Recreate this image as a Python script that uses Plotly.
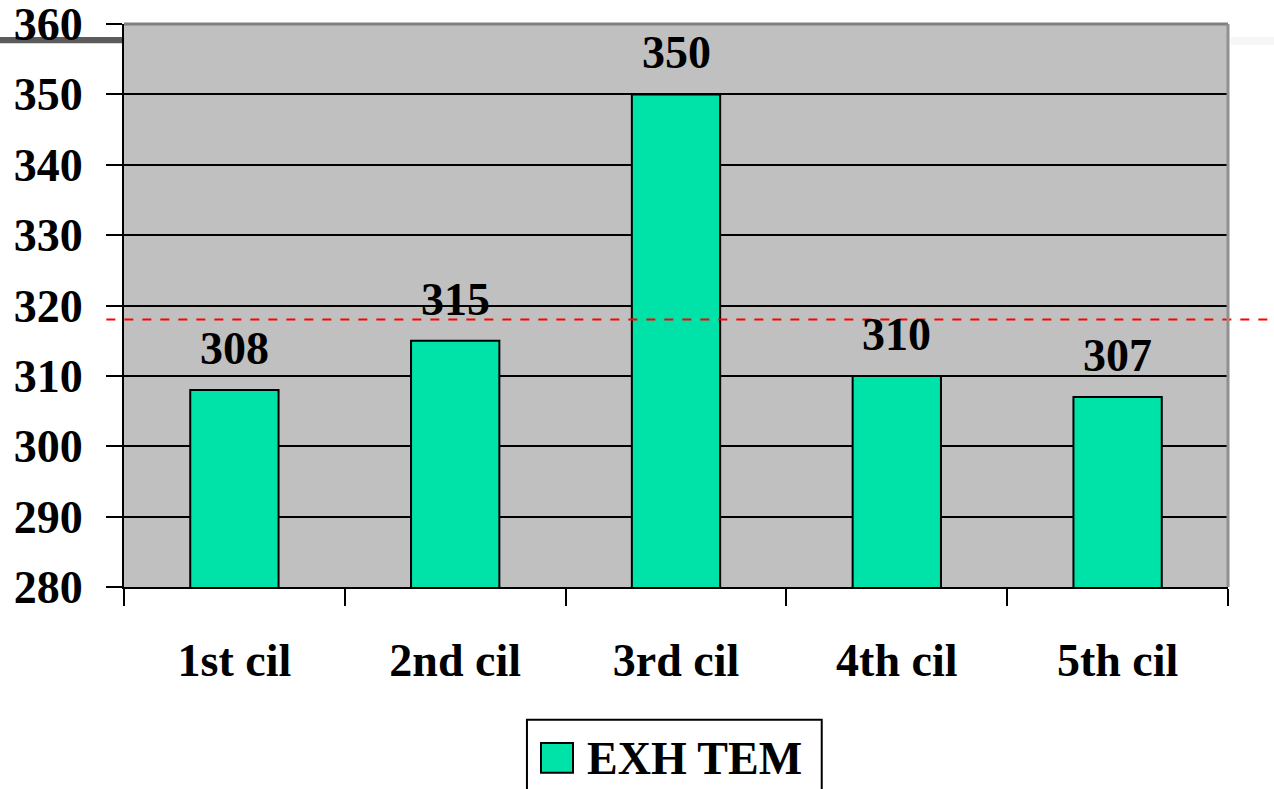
import plotly.graph_objects as go

categories = ["1st cil", "2nd cil", "3rd cil", "4th cil", "5th cil"]
exh_tem = [308, 315, 350, 310, 307]
series_name = "EXH TEM"
reference_level = 318
y_ticks = [280, 290, 300, 310, 320, 330, 340, 350, 360]

FONT = "Liberation Serif, Times New Roman, serif"
BAR_COLOR = "#00E3A8"

fig = go.Figure()
fig.add_trace(go.Bar(
    x=categories, y=exh_tem, name=series_name,
    width=0.4,
    marker=dict(color=BAR_COLOR, line=dict(color="black", width=2)),
    showlegend=False,
))

for c, v in zip(categories, exh_tem):
    fig.add_annotation(x=c, y=v, text=f"<b>{v}</b>", showarrow=False,
                       yanchor="bottom", yshift=14,
                       font=dict(family=FONT, size=46, color="black"))

# legend (drawn manually to match the large swatch)
fig.add_annotation(xref="paper", yref="paper", x=0.4176, y=-0.305,
                   xanchor="left", yanchor="middle", showarrow=False,
                   text=f"<b>{series_name}</b>",
                   font=dict(family=FONT, size=46, color="black"))

shapes = [
    # average reference line
    dict(type="line", xref="paper", yref="y", x0=-0.016, x1=1.045,
         y0=reference_level, y1=reference_level,
         line=dict(color="red", width=2, dash="dash"), layer="above"),
    # slide decoration bars
    dict(type="rect", xref="paper", yref="paper", x0=-0.115, x1=0,
         y0=0.966, y1=0.977, fillcolor="#5c5c5c", line=dict(width=0), layer="below"),
    dict(type="rect", xref="paper", yref="paper", x0=1.002, x1=1.045,
         y0=0.963, y1=0.977, fillcolor="#f6f6f6", line=dict(width=0), layer="below"),
    # top and right plot border (gray)
    dict(type="line", xref="paper", yref="paper", x0=0, x1=1, y0=1, y1=1,
         line=dict(color="#808080", width=3), layer="above"),
    dict(type="line", xref="paper", yref="paper", x0=1, x1=1, y0=0, y1=1,
         line=dict(color="#909090", width=3), layer="above"),
    # legend box and swatch
    dict(type="rect", xref="paper", yref="paper", x0=0.365, x1=0.632,
         y0=-0.40, y1=-0.236, fillcolor="white",
         line=dict(color="black", width=2)),
    dict(type="rect", xref="paper", yref="paper", x0=0.3777, x1=0.4067,
         y0=-0.330, y1=-0.277, fillcolor=BAR_COLOR,
         line=dict(color="black", width=2)),
]

fig.update_layout(
    width=1274, height=789,
    margin=dict(l=124, r=46, t=24, b=202),
    paper_bgcolor="white",
    plot_bgcolor="#C0C0C0",
    font=dict(family=FONT, size=46, color="black"),
    shapes=shapes,
    bargap=0.6,
    showlegend=False,
    xaxis=dict(
        automargin=False,
        showline=True, linecolor="black", linewidth=2,
        ticks="outside", ticklen=17, tickwidth=2, tickcolor="black",
        tickson="boundaries", showgrid=False,
        tickfont=dict(family=FONT, size=46, color="black", weight="bold"),
        ticklabelstandoff=32,
    ),
    yaxis=dict(
        automargin=False,
        range=[280, 360], tickvals=y_ticks,
        showline=True, linecolor="black", linewidth=2,
        ticks="outside", ticklen=16, tickwidth=2, tickcolor="black",
        showgrid=True, gridcolor="black", gridwidth=2,
        zeroline=False,
        ticklabeloverflow="allow",
        tickfont=dict(family=FONT, size=46, color="black", weight="bold"),
        ticklabelstandoff=14,
    ),
)

fig.write_html("out.html",
               config={"displayModeBar": False},
               post_script="document.body.style.margin='0';document.body.style.overflow='hidden';")
